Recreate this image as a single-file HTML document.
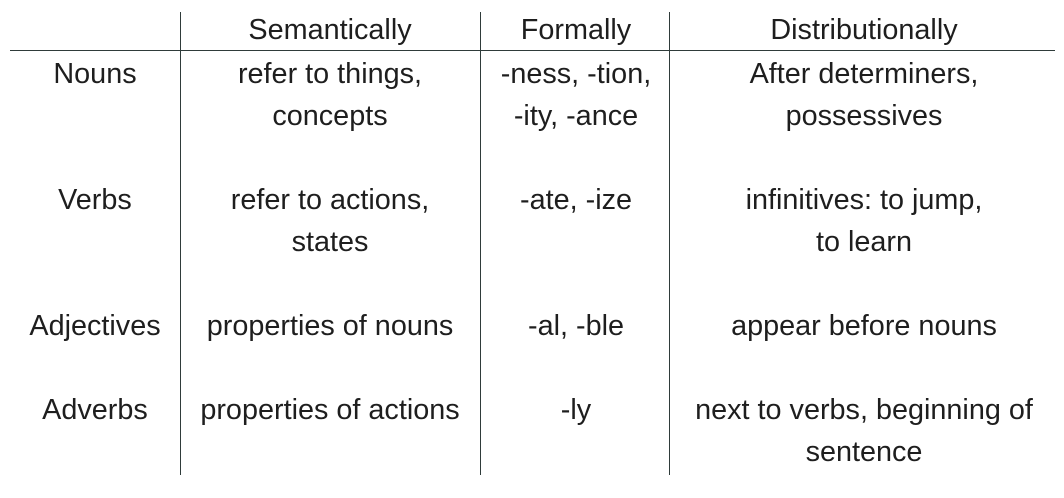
<!DOCTYPE html>
<html><head><meta charset="utf-8"><style>
body{margin:0;width:1064px;height:498px;background:#fff;position:relative;overflow:hidden;font-family:"Liberation Sans",sans-serif;color:#1e1e1e;font-size:28.8px}
.t{position:absolute;width:400px;margin-left:-200px;text-align:center;line-height:1;white-space:nowrap}
.v{position:absolute;top:12px;height:463px;width:1.3px;background:#2f3b3a}
.h{position:absolute;left:10px;width:1045px;top:50px;height:1.3px;background:#2f3b3a}
</style></head><body>
<div class="v" style="left:180px"></div>
<div class="v" style="left:480px"></div>
<div class="v" style="left:669px"></div>
<div class="h"></div>
<div class="t" style="left:330px;top:16px">Semantically</div>
<div class="t" style="left:576px;top:16px">Formally</div>
<div class="t" style="left:864px;top:16px">Distributionally</div>

<div class="t" style="left:95px;top:60px">Nouns</div>
<div class="t" style="left:330px;top:60px">refer to things,</div>
<div class="t" style="left:330px;top:102px">concepts</div>
<div class="t" style="left:576px;top:60px">-ness, -tion,</div>
<div class="t" style="left:576px;top:102px">-ity, -ance</div>
<div class="t" style="left:864px;top:60px">After determiners,</div>
<div class="t" style="left:864px;top:102px">possessives</div>

<div class="t" style="left:95px;top:186px">Verbs</div>
<div class="t" style="left:330px;top:186px">refer to actions,</div>
<div class="t" style="left:330px;top:228px">states</div>
<div class="t" style="left:576px;top:186px">-ate, -ize</div>
<div class="t" style="left:864px;top:186px">infinitives: to jump,</div>
<div class="t" style="left:864px;top:228px">to learn</div>

<div class="t" style="left:95px;top:312px">Adjectives</div>
<div class="t" style="left:330px;top:312px">properties of nouns</div>
<div class="t" style="left:576px;top:312px">-al, -ble</div>
<div class="t" style="left:864px;top:312px">appear before nouns</div>

<div class="t" style="left:95px;top:396px">Adverbs</div>
<div class="t" style="left:330px;top:396px">properties of actions</div>
<div class="t" style="left:576px;top:396px">-ly</div>
<div class="t" style="left:864px;top:396px">next to verbs, beginning of</div>
<div class="t" style="left:864px;top:438px">sentence</div>
</body></html>
